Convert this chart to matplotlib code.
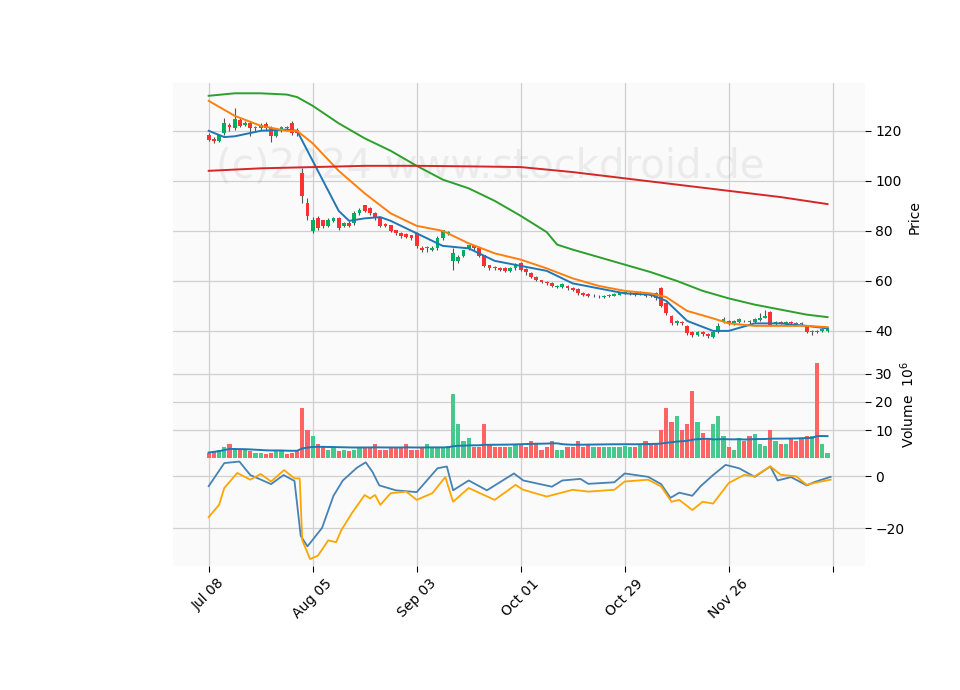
import matplotlib
matplotlib.use("Agg")
import matplotlib.pyplot as plt
import numpy as np
import pandas as pd

OPEN = [118,116.5,116,119,122,121,124,122.5,123,121,121,122.5,121,118,120,121.5,123,120,103,91,
        80,85,84,82,84,85,82,83,83,87,90,89,87,85,82.5,82,80,79,78.5,78,
        79,73,73,72.5,73,77,79,68,68,70,73,74,73,70,66,65.5,65,65,64,65,
        67,64.5,63,61.5,60,59.5,59,57.5,57.5,58,57,56.5,55,54.5,54,54,53.5,53.8,54,54.5,
        55,55,55,55,55,54.5,55,57,51,46,43,43.5,42,39.5,38.5,39.5,38.5,37.5,39.5,43.5,
        44,43,43.5,44,44,43.5,44.5,45,47.5,43,43.5,43,43.5,43,43,42,39.5,40,40,40]
CLOSE = [116.5,116,118,123,121.5,124.5,122,123,121,121.5,122,121,118,120,121.5,121,119,119,94,86,
         84,81,82,84,85,81,83,82,87,88,88,87,85,82,82,80,79,78,77.5,77,
         74,72.5,73.5,73,77,80,79.5,71,69.5,72,74,73,70,66,65,65,64.5,64,65,66.5,
         64.5,63.5,61.5,60.5,59.5,59,58,58,58.5,57,56.5,55,54.5,54,54,53.8,54,54.2,54.5,55,
         55.3,55.2,54.5,55.5,54,54,53,50,47,43,44,43,39,38.5,39.5,38.8,38,39.5,42,44.5,
         43,44,44.5,43.8,43.5,44.5,45,46,42.5,43.5,43.3,43.5,43,42.8,42.8,39.5,40,39.5,40.5,41]
HIGH = [119,117.5,118.5,125,123,129,125,124,124,122,123,123.5,122,121,122,122,124,121,105,93,
        85.5,86,84.5,85,85.5,85.5,83.5,84,88,89,90.5,89.5,87.5,85.5,83,82.5,80.5,79.5,79,78.5,
        79.5,74,74,74,78,80.5,80,73,70.5,72.5,74.5,74.5,73.5,70.5,66.5,66,65.5,65.5,65.5,67,
        67.5,65,63.5,62,60.5,60,59.5,58.5,59,58.5,57.5,57,55.5,55,54.8,54.5,54.5,54.8,55,55.5,
        56,56,55.5,56,55.5,55,55.5,57.5,51.5,46.5,44.5,44,42.5,40,40,40,39,40,43,45.5,
        44.5,44.5,45,44.5,44.5,45,47,48.5,48,44,44,44,44,43.5,43.5,42.5,40.5,40.5,41,41.5]
LOW = [116,115,115.5,118.5,120,120.5,121.5,122,118,120,120.5,120,115.5,117.5,119.5,120.5,118.5,118,91,84.5,
       79,80.5,81,81.5,83.5,80.5,81.5,81.5,82.5,86.5,87.5,86.5,84.5,81.5,81.5,79.5,78.5,77,77,76.5,
       73,71.5,71.5,72,72.5,76.5,78.5,64.5,67,69.5,72.5,72.5,69.5,65.5,64.5,64.5,64,63.5,63.5,64.5,
       64,62.5,61,60,59,58.5,57.5,57,57,56.5,56,54.5,54,53.5,53.5,53.2,53.2,53.5,53.8,54.2,
       54.8,54.5,54,54.5,53.5,53.5,52.5,49.5,46.5,42.5,42.5,42.5,38.5,37.5,38,38,37,37,39,43,
       42.5,42.5,43,43.5,42.5,43,44,45,42,42.5,42.8,42.5,42.5,42.3,42.3,39,38.5,39,39.5,39.5]
VOLUME = [2,2.5,3,4,5,3,3,3,2.5,2,2,1.5,2,3,2.5,1.5,2,3,18,10,
          8,5,4,3,3.5,2.5,3,2.5,3,4,4,4,5,3,3,4,3.5,4,5,3,
          3,4,5,4,4,4,4.5,23,12,6,7,4,4,12,5,4,4,4,4,5,
          5,4,6,5,3,4,6,3,3,4,4,6,4,5,4,4,4,4,4,4,
          4.5,4,4,5,6,5,5,10,18,13,15,10,12,24,13,9,7,12,15,8,
          4,3,7,6,8,8.5,5,4.5,10,6,5,5,7,6,7,8,8,34,5,2]

# moving averages (index, value)
MA_BLUE_X = [0,3,5,10,15,17,20,25,27,30,33,35,40,45,50,55,60,65,70,75,80,85,88,92,97,100,105,110,115,119]
MA_BLUE_Y = [120,117.5,117.8,120,120.5,120,108,88,84,85,85.5,84,79,74,73,68,66,64,59,57,55,54.5,52,44,40,40,43,43,42,41]
MA_ORANGE_X = [0,5,10,15,17,20,25,30,35,40,45,50,55,60,65,70,75,80,85,88,92,97,100,105,110,115,119]
MA_ORANGE_Y = [132,126,122,120,120,115,104,95,87,82,80,75,71,68.5,65,61,58,56,55,53.5,48,45,43,42,42,42,41.5]
MA_GREEN_X = [0,5,10,15,17,20,25,30,35,40,45,50,55,60,65,67,70,75,80,85,90,95,100,105,110,115,119]
MA_GREEN_Y = [134,135,135,134.5,133.5,130,123,117,112,106,100.5,97,92,86,79.5,74.5,72.5,69.5,66.5,63.5,60,56,53,50.5,48.5,46.5,45.5]
MA_RED_X = [0,10,20,30,40,50,60,70,80,90,100,110,119]
MA_RED_Y = [104,105,105.5,106,106,105.8,105.5,103.5,101,98.5,96,93.5,90.7]

IND_BLUE_X = [0,3,5.9,8,12,14.4,16.5,17.7,19,21.8,24,25.8,28.5,30.2,31.5,32.8,36,40,44,45.8,47,50,53.5,58.7,60.5,66,68,71.5,73,78,80,84.5,87,88.8,90.5,93,94.6,97,99.4,102,105,108,109.4,112,115,116.5,119.6]
IND_BLUE_Y = [-3.8,5.1,5.7,0.5,-3,0.5,-1.8,-23,-27,-19.9,-7.5,-1.6,3.3,5.4,1.7,-3.5,-5.4,-6.1,3.1,3.8,-5.4,-1.6,-5.4,1.1,-1.6,-4,-1.6,-1,-2.9,-2.3,1.1,-0.2,-3,-8.3,-6.3,-7.5,-3.8,0.5,4.4,3.1,-0.2,3.8,-1.6,-0.3,-3.5,-2.2,-0.2]
IND_ORANGE_X = [0,2,3,5.5,8,10,12,14.5,16.5,17.5,18,19.5,21,23,24.5,25.5,27.5,30,31,32,33,35,38,40,43,45.5,47,50,55,59,60.5,65,70,73,78,80,84.5,87,89,90.5,93,95,97,100,103,105,108,110,113,115,117,119.6]
IND_ORANGE_Y = [-15.7,-11,-4.5,1.3,-1.3,0.9,-2,2.4,-0.8,-0.8,-24.7,-31.9,-30.6,-24.7,-25.4,-20.8,-14.3,-7.2,-8.5,-7.2,-11,-6.5,-5.9,-9.1,-6.5,-0.3,-9.8,-4.5,-9.1,-3.3,-5.2,-7.8,-5.2,-5.9,-5.2,-2,-1.3,-3.9,-9.8,-9.1,-13,-9.8,-10.5,-2.6,0.6,0,3.8,0.6,0,-3.3,-2.3,-1.3]

TICK_POS = [0,20,40,60,80,100,120]
TICK_LABELS = ["Jul 08","Aug 05","Sep 03","Oct 01","Oct 29","Nov 26",""]

UP, DOWN = "#00b060", "#fe3032"
VUP, VDOWN = "#47c98d", "#ff6464"
BG = "#fafafa"
GRID = "#d0d0d0"

fig = plt.figure(figsize=(9.6, 6.9), dpi=100)
L, W = 0.180, 0.721
ax1 = fig.add_axes([L, 0.490, W, 0.390])
ax2 = fig.add_axes([L, 0.336, W, 0.154], sharex=ax1)
ax3 = fig.add_axes([L, 0.180, W, 0.156], sharex=ax1)

n = len(CLOSE)
x = np.arange(n)
o = np.array(OPEN); c = np.array(CLOSE)
up = c >= o
cols = np.where(up, UP, DOWN)

ax1.vlines(x, LOW, HIGH, colors="#555555", linewidth=0.8, zorder=2)
ax1.bar(x, np.abs(c - o) + 0.15, bottom=np.minimum(o, c), width=0.7, color=cols, zorder=3)
ax1.plot(MA_BLUE_X, MA_BLUE_Y, color="#1f77b4", lw=1.4, zorder=4)
ax1.plot(MA_ORANGE_X, MA_ORANGE_Y, color="#ff7f0e", lw=1.4, zorder=4)
ax1.plot(MA_GREEN_X, MA_GREEN_Y, color="#2ca02c", lw=1.4, zorder=4)
ax1.plot(MA_RED_X, MA_RED_Y, color="#d62728", lw=1.4, zorder=4)
ax1.set_ylim(31.6, 139.2)
ax1.set_yticks([40, 60, 80, 100, 120])
ax1.set_ylabel("Price")
ax1.text(0.458, 0.69, "(c)2024 www.stockdroid.de", transform=ax1.transAxes, ha="center", va="center",
         fontsize=29, color="#888888", alpha=0.13, zorder=1)

vol = np.array(VOLUME)
ax2.bar(x, vol, width=0.8, color=np.where(up, VUP, VDOWN), zorder=3)
vma = pd.Series(vol).rolling(50, min_periods=1).mean()
ax2.plot(x, vma, color="#1f77b4", lw=1.4, zorder=4)
ax2.set_ylim(0, 37.8)
ax2.set_yticks([10, 20, 30])
ax2.set_ylabel("Volume  $10^6$")

ax3.plot(IND_BLUE_X, IND_BLUE_Y, color="#4682b4", lw=1.3)
ax3.plot(IND_ORANGE_X, IND_ORANGE_Y, color="#ffa500", lw=1.3)
ax3.set_ylim(-34.5, 7)
ax3.set_yticks([-20, 0])

for ax in (ax1, ax2, ax3):
    ax.set_facecolor(BG)
    ax.grid(True, color=GRID, lw=0.9)
    ax.set_axisbelow(True)
    for s in ax.spines.values():
        s.set_visible(False)
    ax.yaxis.tick_right()
    ax.yaxis.set_label_position("right")
    ax.tick_params(axis="y", length=4, labelsize=10)
for ax in (ax1, ax2):
    ax.tick_params(axis="x", labelbottom=False, length=0)
ax1.set_xlim(-6.9, 126.2)
ax3.set_xticks(TICK_POS)
ax3.set_xticklabels(TICK_LABELS, rotation=45)
ax3.tick_params(axis="x", length=4)
for ax in (ax1, ax2):
    ax.set_xticks(TICK_POS)

fig.savefig("out.png", dpi=100)
